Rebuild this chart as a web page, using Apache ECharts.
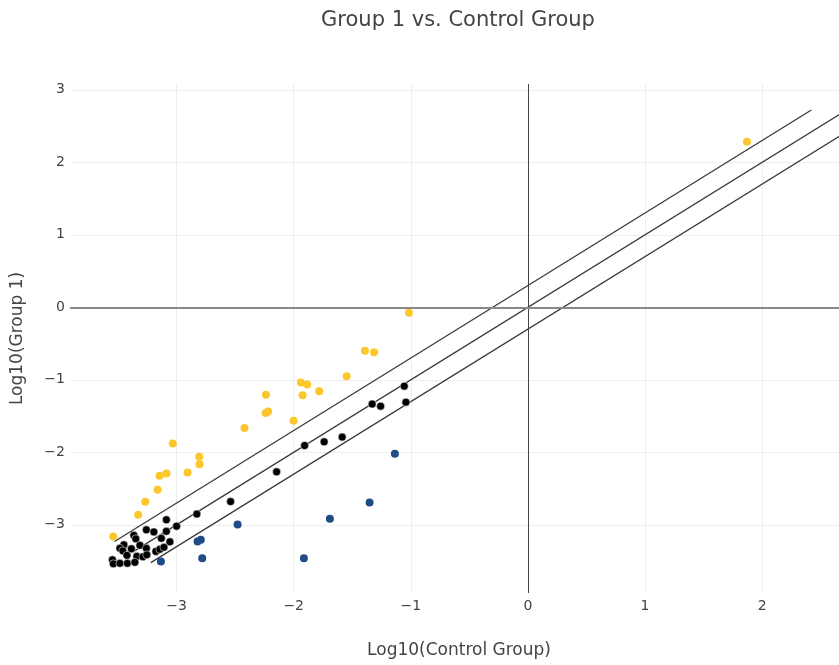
<!DOCTYPE html>
<html>
<head>
<meta charset="utf-8">
<script src="https://cdn.jsdelivr.net/npm/echarts@6/dist/echarts.min.js"></script>
<style>html,body{margin:0;padding:0;background:#fff;}#c{width:839px;height:665px;}</style>
</head>
<body>
<div id="c"></div>
<script>
const chartTitle = "Group 1 vs. Control Group";
const xTitle = "Log10(Control Group)";
const yTitle = "Log10(Group 1)";

// Up-regulated (yellow) points [log10 control, log10 group1]
const upPoints = [
  [1.870, 2.283], [-1.016, -0.076], [-1.392, -0.600], [-1.313, -0.618],
  [-1.548, -0.949], [-1.939, -1.037], [-1.885, -1.065], [-1.924, -1.211],
  [-1.782, -1.156], [-2.237, -1.207], [-2.240, -1.459], [-2.218, -1.437],
  [-2.001, -1.566], [-2.420, -1.666], [-3.032, -1.878], [-2.807, -2.062],
  [-2.804, -2.163], [-2.906, -2.278], [-3.145, -2.324], [-3.086, -2.292],
  [-3.162, -2.517], [-3.268, -2.683], [-3.328, -2.862], [-3.541, -3.161]
];

// Down-regulated (blue) points
const downPoints = [
  [-1.136, -2.021], [-1.352, -2.692], [-1.691, -2.917], [-2.479, -2.996],
  [-1.913, -3.460], [-2.821, -3.230], [-2.793, -3.207], [-2.781, -3.460],
  [-3.134, -3.506]
];

// Unchanged (black) points
const flatPoints = [
  [-1.056, -1.087], [-1.042, -1.308], [-1.330, -1.335], [-1.258, -1.363],
  [-1.586, -1.790], [-1.740, -1.855], [-1.907, -1.906], [-2.146, -2.269],
  [-2.539, -2.679], [-2.827, -2.852], [-3.000, -3.018], [-3.087, -2.931],
  [-3.087, -3.090], [-3.258, -3.069], [-3.194, -3.097], [-3.365, -3.145],
  [-3.348, -3.193], [-3.130, -3.186], [-3.057, -3.234], [-3.450, -3.276],
  [-3.484, -3.324], [-3.459, -3.359], [-3.386, -3.331], [-3.313, -3.283],
  [-3.258, -3.324], [-3.177, -3.366], [-3.143, -3.338], [-3.108, -3.310],
  [-3.424, -3.421], [-3.339, -3.434], [-3.288, -3.441], [-3.254, -3.414],
  [-3.548, -3.483], [-3.540, -3.538], [-3.484, -3.531], [-3.420, -3.531],
  [-3.356, -3.517]
];

// Fold-change reference lines: offset (log10 2) and x extent
const lineOffsets = [0.301, 0, -0.301];
const lineXStart = [-3.53, -3.38, -3.22];
const lineXEnd = [2.42, 2.75, 2.75];

const xMin = -3.91, xMax = 2.656;
const yMin = -3.94, yMax = 3.08;

const fontFam = "DejaVu Sans, Verdana, sans-serif";
const fmt = v => {
  if (Math.abs(v - Math.round(v)) > 1e-6) return '';
  const r = Math.round(v);
  return r < 0 ? '\u2212' + Math.abs(r) : String(r);
};

const lineSeries = lineOffsets.map((d, i) => ({
  type: 'line',
  data: [[lineXStart[i], lineXStart[i] + d], [lineXEnd[i], lineXEnd[i] + d]],
  showSymbol: false,
  symbol: 'none',
  lineStyle: { color: '#3a3a3a', width: 1.3 },
  z: 3,
  silent: true
}));

const chart = echarts.init(document.getElementById('c'), null, { renderer: 'canvas' });
chart.setOption({
  animation: false,
  backgroundColor: '#fff',
  title: {
    text: chartTitle,
    left: 453, top: 5,
    textAlign: 'center',
    textStyle: { fontFamily: fontFam, fontSize: 21, fontWeight: 'normal', color: '#444' }
  },
  grid: { left: 70, right: 0, top: 84, bottom: 72, containLabel: false },
  xAxis: {
    type: 'value', min: xMin, max: xMax, minInterval: 1, maxInterval: 1,
    name: xTitle, nameLocation: 'middle', nameGap: 49,
    nameTextStyle: { fontFamily: fontFam, fontSize: 17, color: '#444', padding: [0, 0, 0, 9] },
    axisLine: { show: false }, axisTick: { show: false },
    axisLabel: { formatter: fmt, showMinLabel: false, showMaxLabel: false, fontFamily: fontFam, fontSize: 14, color: '#444', margin: 6 },
    splitLine: { show: true, showMinLine: false, showMaxLine: false, lineStyle: { color: '#eee', width: 1 } }
  },
  yAxis: {
    type: 'value', min: yMin, max: yMax, minInterval: 1, maxInterval: 1,
    name: yTitle, nameLocation: 'middle', nameGap: 44,
    nameTextStyle: { fontFamily: fontFam, fontSize: 17, color: '#444' },
    axisLine: { show: false }, axisTick: { show: false },
    axisLabel: { formatter: fmt, showMinLabel: false, showMaxLabel: false, fontFamily: fontFam, fontSize: 14, color: '#444', margin: 5 },
    splitLine: { show: true, showMinLine: false, showMaxLine: false, lineStyle: { color: '#eee', width: 1 } }
  },
  series: [
    {
      type: 'scatter', data: [], silent: true,
      markLine: {
        silent: true, symbol: 'none', label: { show: false },
        lineStyle: { color: '#444', type: 'solid', width: 1 },
        data: [
          { xAxis: 0, lineStyle: { color: '#444', width: 1 } },
          { yAxis: 0, lineStyle: { color: '#888', width: 2 } }
        ]
      }
    },
    ...lineSeries,
    { type: 'scatter', data: upPoints, symbolSize: 8, itemStyle: { color: '#fcc72c', opacity: 1 }, z: 4 },
    { type: 'scatter', data: downPoints, symbolSize: 8, itemStyle: { color: '#1f4b87', opacity: 1 }, z: 4 },
    { type: 'scatter', data: flatPoints, symbolSize: 8, itemStyle: { color: '#000', opacity: 1, borderColor: '#fff', borderWidth: 0.5 }, z: 4 }
  ]
});
</script>
</body>
</html>
